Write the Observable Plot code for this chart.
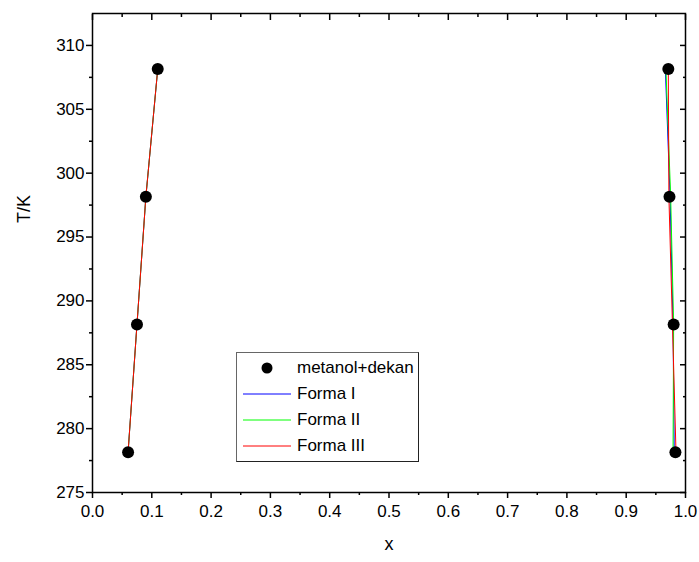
<!DOCTYPE html>
<html>
<head>
<meta charset="utf-8">
<script src="https://cdn.jsdelivr.net/npm/d3@7"></script>
<script src="https://cdn.jsdelivr.net/npm/@observablehq/plot@0.6"></script>
<style>
  body { margin: 0; background: #fff; }
  #wrap { position: relative; width: 699px; height: 562px; font-family: Arial, "Liberation Sans", sans-serif; }
  #legend { position: absolute; left: 236px; top: 352px; box-sizing: border-box; border: 1.5px solid #222; border-top-color: #666; border-left-color: #666; background: #fff; padding: 2px 4px 2px 4px; font-size: 17px; white-space: nowrap; }
  #legend .row { display: flex; align-items: center; height: 26px; }
  #legend svg { margin-right: 6px; flex: none; }
</style>
</head>
<body>
<div id="wrap"></div>
<script>
// Temperatures (K)
const temps = [278.15, 288.15, 298.15, 308.15];
// Experimental solubility, metanol+dekan: methanol-poor and methanol-rich branches
const expLeft = [0.060, 0.075, 0.090, 0.110];
const expRight = [0.983, 0.980, 0.973, 0.971];
// Model curves
const formILeft = [0.060, 0.075, 0.090, 0.110];
const formIRight = [0.981, 0.979, 0.974, 0.966];
const formIILeft = [0.060, 0.075, 0.090, 0.110];
const formIIRight = [0.979, 0.980, 0.975, 0.967];
const formIIILeft = [0.060, 0.075, 0.090, 0.110];
const formIIIRight = [0.984, 0.978, 0.972, 0.971];
const seriesNames = ["Forma I", "Forma II", "Forma III"];
const seriesColors = ["#0000ff", "#00ff00", "#ff0000"];
const xTicks = [0.0, 0.1, 0.2, 0.3, 0.4, 0.5, 0.6, 0.7, 0.8, 0.9, 1.0];
const xMinor = [0.05, 0.15, 0.25, 0.35, 0.45, 0.55, 0.65, 0.75, 0.85, 0.95];
const yTicks = [275, 280, 285, 290, 295, 300, 305, 310];
const yMinor = [277.5, 282.5, 287.5, 292.5, 297.5, 302.5, 307.5];

const points = [];
temps.forEach((t, i) => { points.push({x: expLeft[i], T: t}); points.push({x: expRight[i], T: t}); });

const lines = [];
[[formILeft, formIRight], [formIILeft, formIIRight], [formIIILeft, formIIIRight]].forEach(([L, R], k) => {
  temps.forEach((t, i) => {
    lines.push({series: seriesNames[k], branch: "L", x: L[i], T: t});
    lines.push({series: seriesNames[k], branch: "R", x: R[i], T: t});
  });
});

const font = 'Arial, "Liberation Sans", sans-serif';
const chart = Plot.plot({
  width: 699, height: 562,
  marginLeft: 92, marginRight: 14, marginTop: 13, marginBottom: 70,
  style: {fontFamily: font, background: "#fff", color: "#000"},
  x: {domain: [0, 1]},
  y: {domain: [275, 312.5]},
  color: {domain: seriesNames, range: seriesColors},
  marks: [
    Plot.axisX({ticks: xTicks, tickFormat: d3.format(".1f"), tickSize: 6, tickPadding: 6, fontSize: 17, label: null, strokeWidth: 1.5}),
    Plot.axisX({ticks: xMinor, tickFormat: () => "", tickSize: 3, label: null, strokeWidth: 1.5}),
    Plot.axisX({anchor: "top", ticks: xTicks, tickFormat: () => "", tickSize: -6, label: null, strokeWidth: 1.5}),
    Plot.axisX({anchor: "top", ticks: xMinor, tickFormat: () => "", tickSize: -3, label: null, strokeWidth: 1.5}),
    Plot.axisY({ticks: yTicks, tickSize: 6, tickPadding: 2, fontSize: 17, label: null, strokeWidth: 1.5}),
    Plot.axisY({ticks: yMinor, tickFormat: () => "", tickSize: 3, label: null, strokeWidth: 1.5}),
    Plot.axisY({anchor: "right", ticks: yTicks, tickFormat: () => "", tickSize: -6, label: null, strokeWidth: 1.5}),
    Plot.axisY({anchor: "right", ticks: yMinor, tickFormat: () => "", tickSize: -3, label: null, strokeWidth: 1.5}),
    Plot.frame({stroke: "#000", strokeWidth: 1.5}),
    Plot.line(lines, {x: "x", y: "T", z: d => d.series + d.branch, stroke: "series", strokeWidth: 1}),
    Plot.dot(points, {x: "x", y: "T", r: 6, fill: "#000", stroke: "none"}),
    Plot.text(["x"], {frameAnchor: "bottom", dy: 57, text: d => d, fontSize: 18}),
    Plot.text(["T/K"], {frameAnchor: "left", dx: -68, dy: -30, rotate: -90, text: d => d, fontSize: 18})
  ]
});

const wrap = document.getElementById("wrap");
wrap.appendChild(chart);

// Legend
const legend = document.createElement("div");
legend.id = "legend";
const rows = [{label: "metanol+dekan", type: "dot"}].concat(seriesNames.map((n, i) => ({label: n, type: "line", color: seriesColors[i]})));
rows.forEach(r => {
  const row = document.createElement("div");
  row.className = "row";
  const s = d3.create("svg").attr("width", 50).attr("height", 26);
  if (r.type === "dot") s.append("circle").attr("cx", 26).attr("cy", 13).attr("r", 5.5).attr("fill", "#000");
  else s.append("line").attr("x1", 2).attr("x2", 50).attr("y1", 13).attr("y2", 13).attr("stroke", r.color).attr("stroke-width", 1);
  row.appendChild(s.node());
  const t = document.createElement("span");
  t.textContent = r.label;
  row.appendChild(t);
  legend.appendChild(row);
});
wrap.appendChild(legend);
</script>
</body>
</html>
